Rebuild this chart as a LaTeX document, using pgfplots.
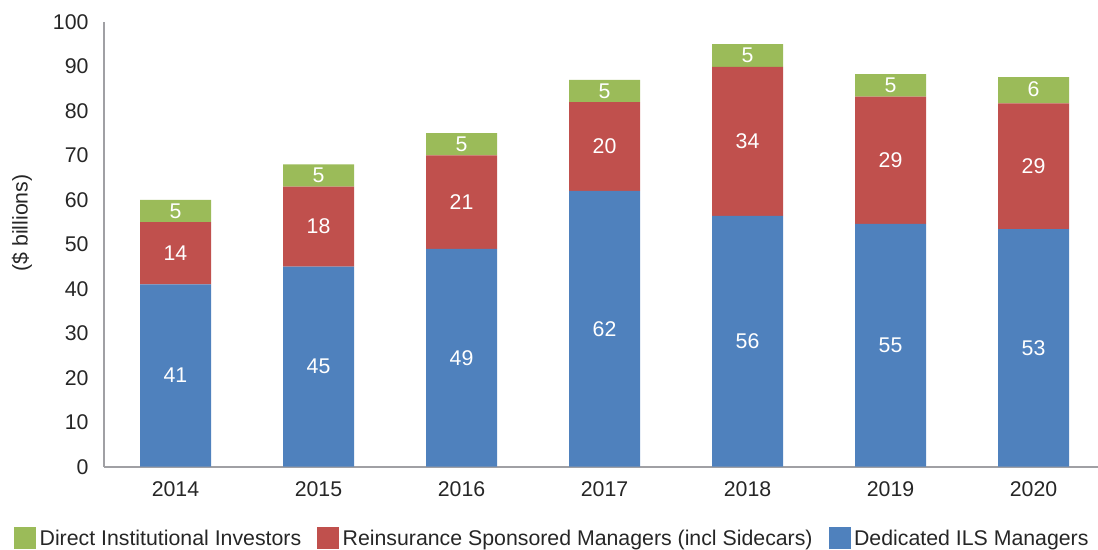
\documentclass[border=0pt]{standalone}
\usepackage{pgfplots}
\pgfplotsset{compat=1.18}
\usepackage{fontspec}
\setmainfont{Liberation Sans}
\definecolor{cBlue}{HTML}{4F81BD}
\definecolor{cRed}{HTML}{C0504D}
\definecolor{cGreen}{HTML}{9BBB59}
\definecolor{cAxis}{HTML}{A0A0A4}
\definecolor{cText}{HTML}{262626}
\begin{document}
\begin{tikzpicture}[font=\fontsize{21.3bp}{25bp}\selectfont]
\useasboundingbox (0,0) rectangle (1098bp,-550bp);
\pgfplotsset{
  base/.style={
    scale only axis, width=994bp, height=444.7bp,
    at={(104bp,-466.7bp)}, anchor=south west,
    xmin=-0.5, xmax=6.451, ymin=0, ymax=100,
  }
}
\begin{axis}[base,
  ybar stacked, bar width=71bp,
  axis x line*=bottom, axis y line*=left,
  axis line style={cAxis, line width=1.6bp, -},
  xtick={0,...,6}, xticklabels={2014,2015,2016,2017,2018,2019,2020},
  ytick={0,10,...,100},
  major tick length=0,
  /pgf/number format/assume math mode=true,
  tick label style={text=cText},
  xticklabel style={yshift=-11bp},
  yticklabel style={xshift=-12bp},
  ylabel={(\$ billions)},
  ylabel style={at={(axis description cs:-0.0825,0.548)}, anchor=center, text=cText},
]
\addplot[fill=cBlue, draw=none] coordinates {(0,41) (1,45) (2,49) (3,62) (4,56.4) (5,54.6) (6,53.4)};
\addplot[fill=cRed, draw=none] coordinates {(0,14) (1,18) (2,21) (3,20) (4,33.5) (5,28.6) (6,28.3)};
\addplot[fill=cGreen, draw=none] coordinates {(0,5) (1,5) (2,5) (3,5) (4,5.1) (5,5.1) (6,5.9)};
\end{axis}
\begin{axis}[base, hide axis,
  legend columns=-1,
  legend cell align=left,
  legend style={draw=none, fill=none, inner sep=0pt, text=cText,
    at={(axis description cs:-0.0905,-0.1592)}, anchor=west,
    nodes={inner sep=0pt},
    /tikz/every odd column/.append style={column sep=4bp},
    /tikz/every even column/.append style={column sep=16bp}},
  every node near coord/.append style={anchor=center, text=white},
]
\addlegendimage{legend image code/.code={\fill[cGreen] (0bp,-9bp) rectangle (21bp,11.7bp);}}
\addlegendentry{Direct Institutional Investors}
\addlegendimage{legend image code/.code={\fill[cRed] (0bp,-9bp) rectangle (21bp,11.7bp);}}
\addlegendentry{Reinsurance Sponsored Managers (incl Sidecars)}
\addlegendimage{legend image code/.code={\fill[cBlue] (0bp,-9bp) rectangle (21bp,11.7bp);}}
\addlegendentry{Dedicated ILS Managers}
% labels at segment midpoints
\addplot[draw=none, mark=none, nodes near coords, point meta=explicit symbolic]
  coordinates {(0,20.5)[41] (1,22.5)[45] (2,24.5)[49] (3,31)[62] (4,28.2)[56] (5,27.3)[55] (6,26.7)[53]};
\addplot[draw=none, mark=none, nodes near coords, point meta=explicit symbolic]
  coordinates {(0,48)[14] (1,54)[18] (2,59.5)[21] (3,72)[20] (4,73.15)[34] (5,68.9)[29] (6,67.55)[29]};
\addplot[draw=none, mark=none, nodes near coords, point meta=explicit symbolic]
  coordinates {(0,57.5)[5] (1,65.5)[5] (2,72.5)[5] (3,84.5)[5] (4,92.45)[5] (5,85.75)[5] (6,84.85)[6]};
\end{axis}
\end{tikzpicture}
\end{document}
